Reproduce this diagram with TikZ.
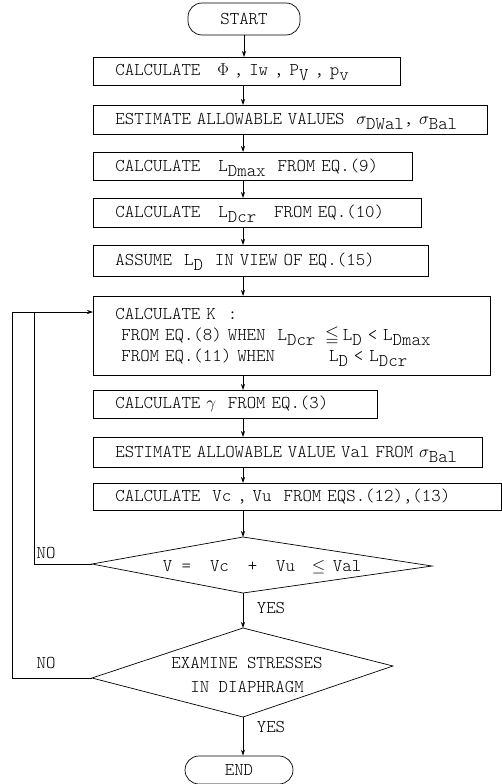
\documentclass[tikz,border=0pt]{standalone}
\usepackage{amssymb}
\usetikzlibrary{arrows.meta}
\newcommand\tyfont{\ttfamily\fontseries{l}\fontsize{18pt}{21pt}\selectfont}
\newcommand\lo[1]{\smash{\raisebox{-5pt}{#1}}}
\newcommand\ch[1]{\makebox[9.45pt]{#1}}
\begin{document}
\begin{tikzpicture}[x=1pt,y=-1pt,
  proc/.style={draw, line width=0.7pt, anchor=north west, inner xsep=22pt, inner ysep=0pt, align=left, font=\tyfont},
  term/.style={draw, line width=0.7pt, rounded corners=14pt, inner sep=0pt, font=\tyfont},
  lbl/.style={font=\tyfont, inner sep=0pt},
  arr/.style={line width=0.7pt, -{Stealth[length=6pt,width=4pt]}},
  ln/.style={line width=0.7pt}]
\useasboundingbox (0,0) rectangle (502,784);
\coordinate (cx) at (243,0);
\node[term, minimum width=112pt, minimum height=32pt] (start) at (244,19) {START};
\node[proc, text width=263pt, minimum height=28pt] (b1) at (93,57) {\mbox{CALCULATE~~~\ch{$\Phi$}~,~Iw~,~P\lo{V}~,~p\lo{v}}};
\node[proc, text width=350pt, minimum height=29pt] (b2) at (93,105) {\mbox{ESTIMATE~ALLOWABLE~VALUES~~\ch{$\sigma$}\lo{DWal},~\ch{$\sigma$}\lo{Bal}}};
\node[proc, text width=275pt, minimum height=28pt] (b3) at (93,152) {\mbox{CALCULATE~~~L\lo{Dmax}~~FROM~EQ.(9)}};
\node[proc, text width=284pt, minimum height=29pt] (b4) at (93,198) {\mbox{CALCULATE~~~L\lo{Dcr}~~~FROM~EQ.(10)}};
\node[proc, text width=291pt, minimum height=31pt] (b5) at (93,245) {\mbox{ASSUME~~L\lo{D}~~IN~VIEW~OF~EQ.(15)}};
\node[proc, text width=353pt, minimum height=79pt] (b6) at (93,296) {\mbox{CALCULATE~K~~:}\\
\mbox{~FROM~EQ.(8)~WHEN~~L\lo{Dcr}~~\ch{$\leqq$}~L\lo{D}~<~L\lo{Dmax}}\\
\mbox{~FROM~EQ.(11)~WHEN~~~~~~~~~L\lo{D}~<~L\lo{Dcr}}};
\node[proc, text width=240pt, minimum height=28pt] (b7) at (93,390) {\mbox{CALCULATE~\ch{$\gamma$}~~FROM~EQ.(3)}};
\node[proc, text width=345pt, minimum height=30pt] (b8) at (93,437) {\mbox{ESTIMATE~ALLOWABLE~VALUE~Val~FROM~\ch{$\sigma$}\lo{Bal}}};
\node[proc, text width=364pt, minimum height=27pt] (b9) at (93,483) {\mbox{CALCULATE~~Vc~,~Vu~~FROM~EQS.(12),(13)}};
% decision 1
\coordinate (d1t) at (243,537);
\coordinate (d1r) at (432,566);
\coordinate (d1b) at (243,593);
\coordinate (d1l) at (92,564);
\draw[ln] (d1t) -- (d1r) -- (d1b) -- (d1l) -- cycle;
\node[lbl] (d1) at (262,567) {V~=~~Vc~~+~~Vu~~\ch{$\leq$}~Val};
% decision 2
\coordinate (d2t) at (243,628);
\coordinate (d2r) at (393,666);
\coordinate (d2b) at (243,717);
\coordinate (d2l) at (92,678);
\draw[ln] (d2t) -- (d2r) -- (d2b) -- (d2l) -- cycle;
\node[lbl, align=center, font=\ttfamily\fontseries{l}\fontsize{18pt}{24pt}\selectfont] (d2) at (247,675) {EXAMINE STRESSES\\IN DIAPHRAGM};
\node[term, minimum width=108pt, minimum height=28pt] (end) at (239,770) {END};
% labels
\node[lbl] (no1) at (46,553) {NO};
\node[lbl] (no2) at (46,663) {NO};
\node[lbl] (yes1) at (271,608) {YES};
\node[lbl] (yes2) at (271,727) {YES};
% connectors
\draw[arr] (start.south) -- (start.south |- b1.north);
\draw[arr] (cx |- b1.south) -- (cx |- b2.north);
\draw[arr] (cx |- b2.south) -- (cx |- b3.north);
\draw[arr] (cx |- b3.south) -- (cx |- b4.north);
\draw[arr] (cx |- b4.south) -- (cx |- b5.north);
\draw[arr] (cx |- b5.south) -- (cx |- b6.north);
\draw[arr] (cx |- b6.south) -- (cx |- b7.north);
\draw[arr] (cx |- b7.south) -- (cx |- b8.north);
\draw[arr] (cx |- b8.south) -- (cx |- b9.north);
\draw[arr] (cx |- b9.south) -- (d1t);
\draw[arr] (d1b) -- (d2t);
\draw[arr] (d2b) -- (d2b |- end.north);
\coordinate (j1) at (34,312);
\coordinate (j2) at (12,312);
\draw[ln] (d1l) -| (j1);
\draw[arr] (d2l) -| (j2) -- (j2 -| b6.west);
\end{tikzpicture}
\end{document}
